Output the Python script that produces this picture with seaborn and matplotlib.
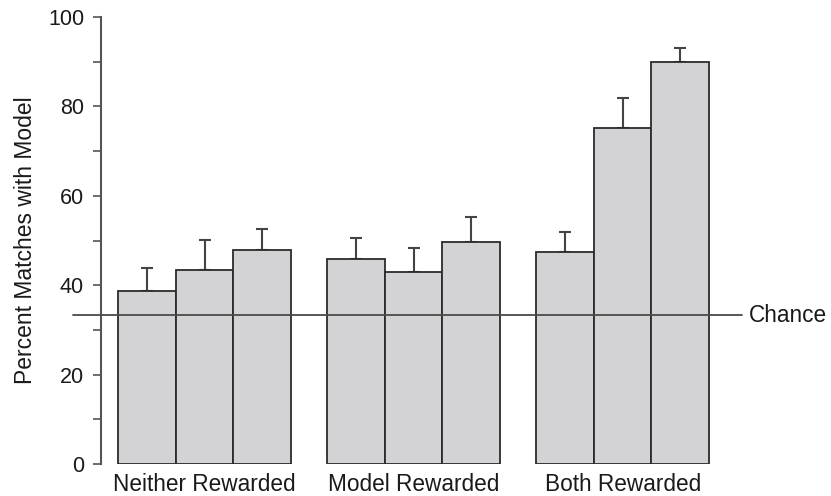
import numpy as np
import pandas as pd
import matplotlib
matplotlib.use("Agg")
import matplotlib.pyplot as plt
from matplotlib.lines import Line2D
import seaborn as sns

# Mean percent of choices matching the model, with standard errors
groups = ["Neither Rewarded", "Model Rewarded", "Both Rewarded"]
conditions = ["1", "2", "3"]
means = [
    [38.7, 43.5, 47.8],   # Neither Rewarded
    [45.8, 43.0, 49.6],   # Model Rewarded
    [47.4, 75.2, 89.9],   # Both Rewarded
]
errors = [
    [5.2, 6.6, 4.8],
    [4.7, 5.4, 5.7],
    [4.6, 6.6, 3.2],
]
chance_level = 33.3
y_ticks = [0, 20, 40, 60, 80, 100]

rows = []
for g, grp in enumerate(groups):
    for c, cond in enumerate(conditions):
        rows.append({"group": grp, "condition": cond,
                     "mean": means[g][c], "err": errors[g][c]})
df = pd.DataFrame(rows)

sns.set_theme(style="ticks")
plt.rcParams["font.family"] = ["Liberation Sans", "DejaVu Sans"]

fig = plt.figure(figsize=(8.31, 4.96), dpi=100)
ax = fig.add_axes([100.7 / 831, 1 - 464 / 496, 641.3 / 831, 447 / 496])

bar_fill = "#d3d3d5"
edge = "#2b2b2b"
sns.barplot(data=df, x="group", y="mean", hue="condition",
            order=groups, hue_order=conditions,
            palette=[bar_fill] * 3, width=0.825, gap=0,
            errorbar=None, edgecolor=edge, linewidth=1.3,
            legend=False, ax=ax, zorder=2)

# upper-only error bars placed at the centre of each bar
for container, cond in zip(ax.containers, conditions):
    sub = df[df["condition"] == cond].set_index("group").loc[groups]
    xs = [p.get_x() + p.get_width() / 2 for p in container.patches]
    ys = sub["mean"].to_numpy()
    up = sub["err"].to_numpy()
    ax.errorbar(xs, ys, yerr=[np.zeros_like(up), up], fmt="none",
                ecolor="#444444", elinewidth=1.5, capsize=4.3,
                capthick=1.5, zorder=1)

ax.set_xlim(-0.497, 2.571)
ax.set_ylim(0, 100)

# chance reference line, running slightly past the y axis on the left
ax.add_line(Line2D([-0.043, 1.0], [chance_level, chance_level],
                   transform=ax.get_yaxis_transform(), color="#4a4a4a",
                   linewidth=1.3, clip_on=False, zorder=3))
ax.text(1.01, chance_level, "Chance", transform=ax.get_yaxis_transform(),
        ha="left", va="center", fontsize=16.3, color="#1a1a1a")

ax.set_yticks(y_ticks)
ax.set_yticks([10, 30, 50, 70, 90], minor=True)
ax.tick_params(axis="y", which="both", length=6, width=1.2,
               color="#555555", labelsize=15.5, labelcolor="#1a1a1a", pad=6)
ax.tick_params(axis="x", length=0, labelsize=16.3, labelcolor="#1a1a1a", pad=6.5)

ax.set_xlabel("")
ax.set_ylabel("Percent Matches with Model", fontsize=16.5, color="#1a1a1a")
ax.yaxis.set_label_coords(-0.1, 0.5)

for side in ["top", "right", "bottom"]:
    ax.spines[side].set_visible(False)
ax.spines["left"].set_color("#555555")
ax.spines["left"].set_linewidth(1.5)

fig.savefig("out.png", dpi=100)
